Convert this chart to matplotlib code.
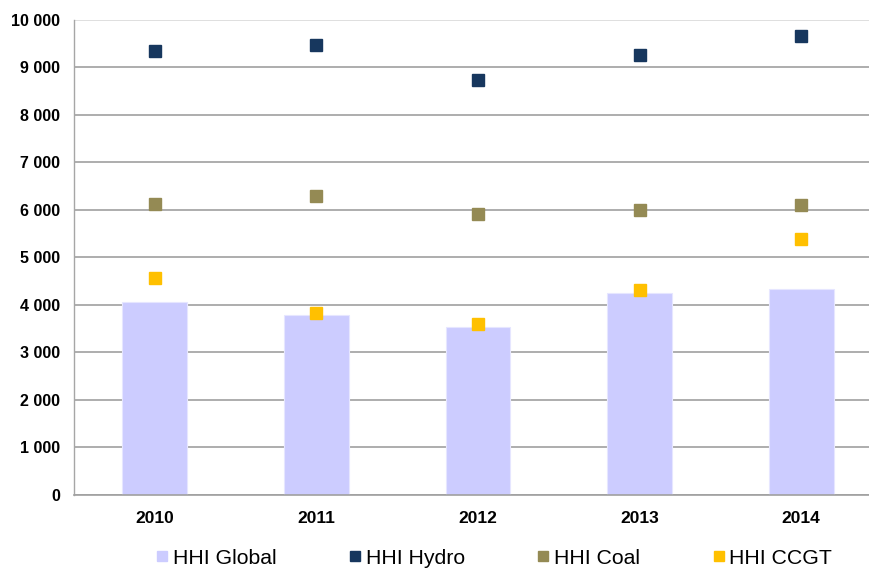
import matplotlib
matplotlib.use('Agg')
import numpy as np
from matplotlib import pyplot as plt
from matplotlib.lines import Line2D

# Data
years = ['2010', '2011', '2012', '2013', '2014']
hhi_global = [4060, 3780, 3530, 4250, 4330]
hhi_hydro = [9350, 9460, 8740, 9260, 9650]
hhi_coal = [6130, 6280, 5900, 6000, 6090]
hhi_ccgt = [4560, 3830, 3590, 4310, 5380]

c_global = '#CCCCFF'
c_hydro = '#17375E'
c_coal = '#948A54'
c_ccgt = '#FFC000'

plt.rcParams['font.family'] = ['Liberation Sans', 'DejaVu Sans']

fig = plt.figure(figsize=(8.69, 5.70), dpi=100)
ax = fig.add_axes([74/869, 75.3/570, 808/869, 475/570])

x = np.arange(len(years))
ax.bar(x, hhi_global, width=0.4, color=c_global, edgecolor='#E6E6FF', linewidth=0.8, zorder=2)
ax.plot(x, hhi_hydro, 's', color=c_hydro, markersize=8, zorder=3)
ax.plot(x, hhi_coal, 's', color=c_coal, markersize=8, zorder=3)
ax.plot(x, hhi_ccgt, 's', color=c_ccgt, markersize=8, zorder=3)

ax.set_xlim(-0.5, len(years) - 0.5)
ax.set_ylim(0, 10000)
ax.set_xticks(x)
ax.set_xticklabels(years, fontsize=12.5, fontweight='bold')
yt = np.arange(0, 10001, 1000)
ax.set_yticks(yt)
ax.set_yticklabels([f'{v:,}'.replace(',', ' ') for v in yt], fontsize=11.5, fontweight='bold')
ax.tick_params(axis='both', length=0)
ax.tick_params(axis='y', pad=10)
ax.tick_params(axis='x', pad=12)

ax.set_axisbelow(True)
ax.yaxis.grid(True, color='#A0A0A0', linewidth=1.2)
ax.get_ygridlines()[-1].set_color('#D9D9D9')
for s in ['top', 'right']:
    ax.spines[s].set_visible(False)
ax.spines['left'].set_color('#A6A6A6')
ax.spines['bottom'].set_color('#A0A0A0')
ax.spines['left'].set_linewidth(1.0)
ax.spines['bottom'].set_linewidth(1.2)

handles = [Line2D([], [], marker='s', linestyle='none', color=c, markersize=7.5)
           for c in [c_global, c_hydro, c_coal, c_ccgt]]
labels = ['HHI Global', 'HHI Hydro', 'HHI Coal', 'HHI CCGT']
fig.legend(handles, labels, loc='center', bbox_to_anchor=(0.569, 0.021), ncol=4,
           frameon=False, fontsize=15.3, handlelength=0.5, handletextpad=0.25,
           columnspacing=3.45)

fig.savefig('out.png', dpi=100)
